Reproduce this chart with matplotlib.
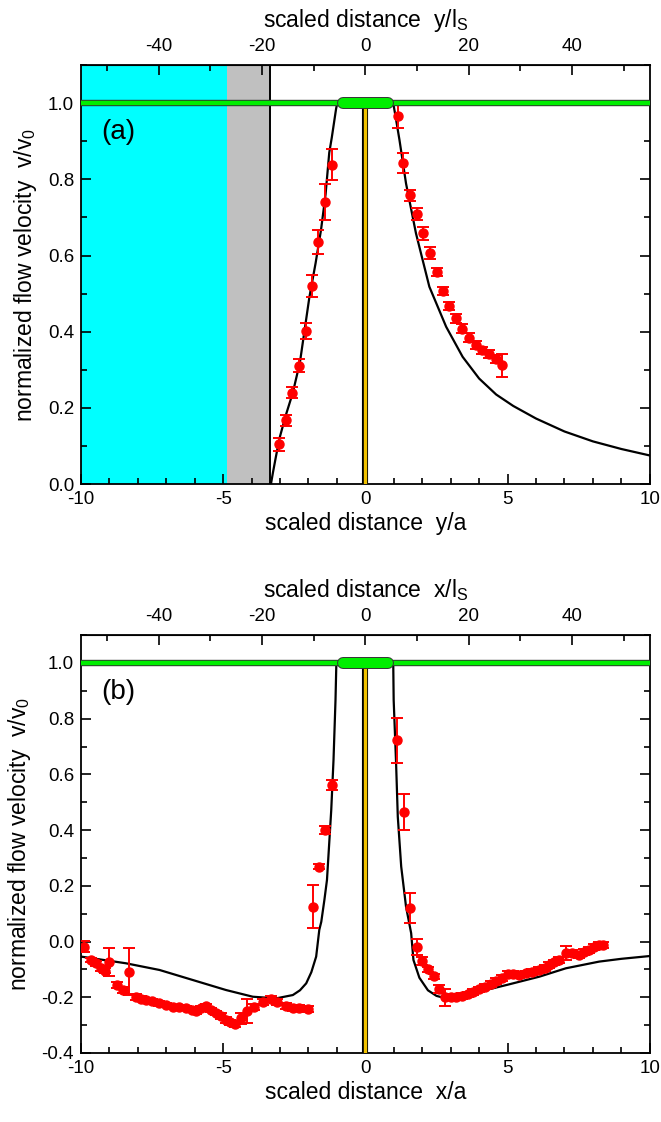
import numpy as np
import matplotlib.pyplot as plt
from matplotlib.ticker import MultipleLocator, FixedLocator

plt.rcParams['font.family'] = ['Liberation Sans', 'DejaVu Sans']
plt.rcParams['mathtext.default'] = 'regular'
plt.rcParams['axes.unicode_minus'] = False
plt.rcParams['xtick.direction'] = 'in'
plt.rcParams['ytick.direction'] = 'in'

# ---------------- данные (a) ----------------
a_left_x = [-3.02, -2.79, -2.57, -2.34, -2.10, -1.86, -1.65, -1.42, -1.17]
a_left_y = [0.104, 0.167, 0.240, 0.311, 0.402, 0.520, 0.636, 0.740, 0.838]
a_left_e = [0.016, 0.015, 0.015, 0.018, 0.021, 0.029, 0.032, 0.048, 0.041]

a_right_x = [1.14, 1.34, 1.57, 1.80, 2.02, 2.26, 2.51, 2.73, 2.94, 3.17,
             3.41, 3.64, 3.88, 4.11, 4.35, 4.58, 4.80]
a_right_y = [0.966, 0.843, 0.758, 0.708, 0.658, 0.607, 0.556, 0.507, 0.467, 0.435,
             0.408, 0.384, 0.365, 0.351, 0.341, 0.329, 0.312]
a_right_e = [0.031, 0.026, 0.015, 0.016, 0.017, 0.015, 0.010, 0.010, 0.010, 0.012,
             0.012, 0.012, 0.010, 0.010, 0.010, 0.010, 0.030]

# модельная кривая (a)
a_mod_lx = [-3.32, -3.25, -3.15, -3.02, -2.80, -2.55, -2.30, -1.97, -1.75, -1.56,
            -1.40, -1.27, -1.18, -1.09, -1.03, -0.99]
a_mod_ly = [0.0, 0.03, 0.07, 0.12, 0.18, 0.24, 0.32, 0.49, 0.58, 0.667,
            0.76, 0.87, 0.91, 0.955, 0.985, 1.0]
a_mod_rx = [0.98, 1.05, 1.20, 1.43, 1.78, 2.25, 2.84, 3.42, 4.00, 4.60,
            5.20, 6.00, 7.00, 8.00, 9.00, 10.0]
a_mod_ry = [1.0, 0.97, 0.903, 0.789, 0.658, 0.518, 0.413, 0.334, 0.277, 0.235,
            0.205, 0.172, 0.138, 0.112, 0.092, 0.075]

# ---------------- данные (b) ----------------
b_left_x = [-9.91, -9.64, -9.47, -9.29, -9.17, -9.00, -8.74, -8.53, -8.32, -8.07,
            -7.90, -7.72, -7.50, -7.24, -7.00, -6.77, -6.55, -6.30, -6.10, -5.95,
            -5.78, -5.60, -5.42, -5.25, -5.07, -4.90, -4.75, -4.60, -4.37, -4.17,
            -3.90, -3.61, -3.32, -3.09, -2.79, -2.55, -2.32, -2.03,
            -1.85, -1.64, -1.41, -1.17]
b_left_y = [-0.018, -0.066, -0.078, -0.096, -0.104, -0.072, -0.156, -0.174, -0.108, -0.198,
            -0.205, -0.210, -0.215, -0.222, -0.228, -0.234, -0.236, -0.239, -0.245, -0.250,
            -0.240, -0.231, -0.245, -0.257, -0.268, -0.281, -0.290, -0.296, -0.275, -0.249,
            -0.234, -0.216, -0.207, -0.216, -0.231, -0.239, -0.239, -0.243,
            0.125, 0.269, 0.400, 0.562]
b_left_e = [0.020, 0.008, 0.008, 0.010, 0.010, 0.050, 0.012, 0.012, 0.085, 0.010,
            0.008, 0.008, 0.008, 0.008, 0.008, 0.008, 0.008, 0.008, 0.008, 0.010,
            0.008, 0.008, 0.008, 0.008, 0.010, 0.010, 0.010, 0.010, 0.020, 0.042,
            0.010, 0.010, 0.010, 0.010, 0.010, 0.010, 0.010, 0.010,
            0.078, 0.010, 0.014, 0.018]

b_right_x = [1.12, 1.35, 1.58, 1.80, 2.00, 2.20, 2.40, 2.60, 2.80, 3.00,
             3.20, 3.40, 3.60, 3.80, 4.00, 4.20, 4.40, 4.60, 4.80, 5.00,
             5.20, 5.40, 5.65, 5.85, 6.12, 6.30, 6.47, 6.65, 6.82, 7.05,
             7.25, 7.52, 7.70, 7.87, 8.05, 8.20, 8.35]
b_right_y = [0.722, 0.465, 0.122, -0.020, -0.070, -0.100, -0.125, -0.170, -0.200, -0.200,
             -0.198, -0.195, -0.190, -0.182, -0.172, -0.162, -0.152, -0.142, -0.130, -0.115,
             -0.115, -0.120, -0.114, -0.110, -0.102, -0.095, -0.084, -0.075, -0.066, -0.040,
             -0.040, -0.048, -0.038, -0.030, -0.020, -0.012, -0.012]
b_right_e = [0.081, 0.063, 0.054, 0.030, 0.015, 0.010, 0.010, 0.015, 0.030, 0.010,
             0.010, 0.010, 0.010, 0.010, 0.010, 0.010, 0.010, 0.010, 0.010, 0.010,
             0.010, 0.010, 0.010, 0.010, 0.010, 0.010, 0.010, 0.010, 0.010, 0.025,
             0.010, 0.010, 0.010, 0.010, 0.010, 0.010, 0.010]

b_mod_lx = [-10.0, -8.42, -7.24, -6.07, -4.90, -3.96, -3.14, -2.55, -2.30, -2.08,
            -1.90, -1.73, -1.62, -1.55, -1.44, -1.35, -1.20, -1.12, -1.05, -1.02]
b_mod_ly = [-0.054, -0.078, -0.102, -0.138, -0.174, -0.198, -0.204, -0.192, -0.175, -0.150,
            -0.110, -0.054, 0.042, 0.071, 0.150, 0.221, 0.472, 0.652, 0.867, 1.0]
b_mod_rx = [0.98, 0.995, 1.08, 1.14, 1.26, 1.43, 1.61, 1.69, 1.90, 2.20,
            2.50, 2.80, 3.20, 4.00, 5.00, 6.12, 7.05, 8.22, 9.00, 10.0]
b_mod_ry = [1.0, 0.867, 0.640, 0.448, 0.269, 0.125, 0.030, -0.066, -0.130, -0.175,
            -0.195, -0.203, -0.198, -0.180, -0.155, -0.126, -0.096, -0.072, -0.062, -0.052]

top_major = [-40, -20, 0, 20, 40]
top_minor = [-50, -30, -10, 10, 30, 50]

ratio = 5.5   # a / l_S
x_cyan = (-10, -4.87)
x_gray = (-4.87, -3.35)


def decorate(ax, xl, xtop):
    ax.set_xlim(-10, 10)
    ax.xaxis.set_major_locator(MultipleLocator(5))
    ax.xaxis.set_minor_locator(MultipleLocator(1))
    ax.yaxis.set_major_locator(MultipleLocator(0.2))
    ax.yaxis.set_minor_locator(MultipleLocator(0.1))
    ax.tick_params(which='both', right=True, top=False, labelsize=13.5, width=1.2)
    ax.tick_params(which='major', length=7, pad=5)
    ax.tick_params(which='minor', length=4)
    for s in ax.spines.values():
        s.set_linewidth(1.3)
    ax.set_xlabel(xl, fontsize=16.5, labelpad=3)
    ax.set_ylabel('normalized flow velocity  v/v$_0$', fontsize=16.5, labelpad=6)
    sec = ax.secondary_xaxis('top', functions=(lambda x: x * ratio, lambda x: x / ratio))
    sec.xaxis.set_major_locator(FixedLocator(top_major))
    sec.xaxis.set_minor_locator(FixedLocator(top_minor))
    sec.tick_params(which='both', direction='in', labelsize=13.5, width=1.2)
    sec.tick_params(which='major', length=7, pad=7)
    sec.tick_params(which='minor', length=4)
    sec.set_xlabel(xtop, fontsize=16.5, labelpad=8)
    # проволока (жёлтая) и трубка (зелёная)
    y0 = ax.get_ylim()[0]
    ax.plot([0, 0], [y0, 1.0], color='black', lw=4.4, zorder=3, solid_capstyle='butt')
    ax.plot([0, 0], [y0, 1.0], color='#f2c200', lw=2.4, zorder=3.1, solid_capstyle='butt')
    ax.plot([-10, 10], [1, 1], color='#333333', lw=4.6, zorder=6, solid_capstyle='butt')
    ax.plot([-10, 10], [1, 1], color='#00ee00', lw=3.2, zorder=6.1, solid_capstyle='butt')
    ax.plot([-0.8, 0.8], [1, 1], color='#333333', lw=8.6, zorder=6.2, solid_capstyle='round')
    ax.plot([-0.8, 0.8], [1, 1], color='#00ee00', lw=7.2, zorder=6.3, solid_capstyle='round')


fig = plt.figure(figsize=(6.61, 11.22), dpi=100)
ax1 = fig.add_axes([0.1225, 0.5686, 0.8605, 0.3734])
ax2 = fig.add_axes([0.1225, 0.0615, 0.8605, 0.3725])

# ---- (a) ----
ax1.set_ylim(0, 1.1)
ax1.axvspan(*x_cyan, color='#00ffff', lw=0, zorder=0)
ax1.axvspan(*x_gray, color='#c0c0c0', lw=0, zorder=0)
ax1.axvline(x_gray[1], color='black', lw=1.4, zorder=1)
ax1.plot(a_mod_lx, a_mod_ly, color='black', lw=1.6, zorder=4)
ax1.plot(a_mod_rx, a_mod_ry, color='black', lw=1.6, zorder=4)
for xs, ys, es in [(a_left_x, a_left_y, a_left_e), (a_right_x, a_right_y, a_right_e)]:
    ax1.errorbar(xs, ys, yerr=es, fmt='o', color='red', ms=6.5, elinewidth=1.4,
                 capsize=4, capthick=1.4, zorder=5)
ax1.text(-9.3, 0.925, '(a)', fontsize=20, va='center')
decorate(ax1, 'scaled distance  y/a', 'scaled distance  y/l$_S$')

# ---- (b) ----
ax2.set_ylim(-0.4, 1.1)
ax2.plot(b_mod_lx, b_mod_ly, color='black', lw=1.6, zorder=4)
ax2.plot(b_mod_rx, b_mod_ry, color='black', lw=1.6, zorder=4)
for xs, ys, es in [(b_left_x, b_left_y, b_left_e), (b_right_x, b_right_y, b_right_e)]:
    ax2.errorbar(xs, ys, yerr=es, fmt='o', color='red', ms=6.5, elinewidth=1.4,
                 capsize=4, capthick=1.4, zorder=5)
ax2.text(-9.3, 0.895, '(b)', fontsize=20, va='center')
decorate(ax2, 'scaled distance  x/a', 'scaled distance  x/l$_S$')

fig.savefig('out.png', dpi=100)
